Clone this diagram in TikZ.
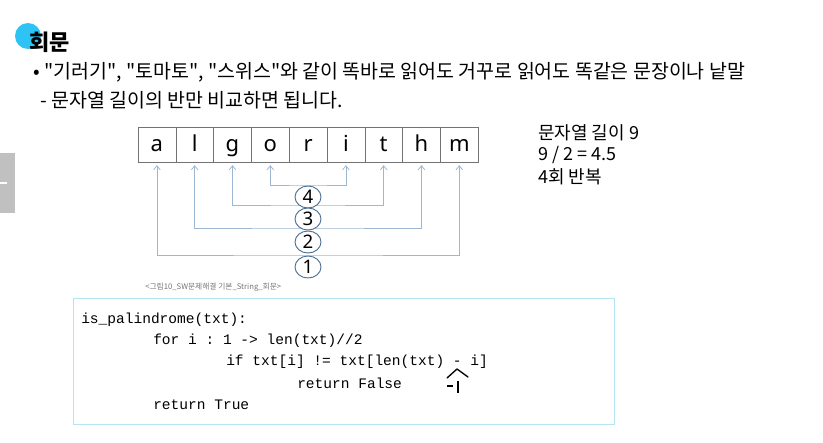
\documentclass[tikz,border=0pt]{standalone}
\usepackage{fontspec}
\setmainfont{Noto Sans CJK KR}
\setmonofont{Liberation Mono}
\newfontfamily\cellfont{Noto Sans}
\usetikzlibrary{shapes.geometric,arrows.meta}
\definecolor{titleblue}{HTML}{2EC3F5}
\definecolor{linkblue}{HTML}{9DB7D2}
\definecolor{ringblue}{HTML}{4F7296}
\definecolor{codeframe}{HTML}{B4E4EF}
\definecolor{tabgray}{HTML}{C0C0C0}
\newcommand{\dq}{\textquotedbl}
\tikzset{
  cell/.style={draw=black!55,minimum width=28.35pt,minimum height=26.25pt,inner sep=0pt,text height=13pt,text depth=2pt,font=\cellfont\fontsize{16.5}{18}\selectfont},
  link/.style={draw=linkblue,line width=0.6pt,{Straight Barb[length=3pt,width=5pt]}-{Straight Barb[length=3pt,width=5pt]}},
  ring/.style={ellipse,draw=ringblue,fill=white,line width=0.7pt,minimum width=19.5pt,minimum height=16.5pt,inner sep=0pt,font=\cellfont\fontsize{14}{15}\selectfont},
  txt/.style={anchor=west,inner sep=0pt},
  codeline/.style={anchor=west,inner sep=0pt,font=\ttfamily\fontsize{10.9}{12}\selectfont}
}
\begin{document}
\begin{tikzpicture}[x=0.75pt,y=-0.75pt]
\useasboundingbox (0,0) rectangle (823,442);
% side tab
\fill[tabgray] (0,153) rectangle (15,213);
\draw[white,line width=1.2pt] (0,183) -- (7,183);
% title
\fill[titleblue] (28,36) circle (13);
\node[txt] (title) at (29,42) {\fontsize{16.5}{18}\selectfont\bfseries 회문};
\node[txt] (line1) at (33,72) {\fontsize{14.6}{16}\selectfont • \dq 기러기\dq, \dq 토마토\dq, \dq 스위스\dq 와 같이 똑바로 읽어도 거꾸로 읽어도 똑같은 문장이나 낱말};
\node[txt] (line2) at (40,100) {\fontsize{14.6}{16}\selectfont - 문자열 길이의 반만 비교하면 됩니다.};
% the word
\foreach \ch [count=\i] in {a,l,g,o,r,i,t,h,m}
  \node[cell] (c\i) at ({138+37.8*(\i-0.5)},144.5) {\ch};
% pairs
\foreach \a/\b/\y in {1/9/255,2/8/228,3/7/205,4/6/185}{
  \coordinate (lv\a) at (308,\y);
  \draw[link] ([yshift=-2.2pt]c\a.south) |- (lv\a) -| ([yshift=-2.2pt]c\b.south);
}
\foreach \n/\y in {4/197,3/219,2/242,1/267}
  \node[ring] (r\n) at (308,\y) {\n};
\node[txt,text=black!55] (caption) at (145,287) {\fontsize{5.8}{6}\selectfont <그림10\_SW문제해결 기본\_String\_회문>};
% note
\node[txt] (note1) at (538,133) {\fontsize{13.5}{15}\selectfont 문자열 길이 9};
\node[txt] (note2) at (538,155) {\fontsize{13.5}{15}\selectfont 9 / 2 = 4.5};
\node[txt] (note3) at (538,177) {\fontsize{13.5}{15}\selectfont 4회 반복};
% code
\draw[codeframe,line width=0.6pt] (73,298) rectangle (614,424);
\node[codeline] (k1) at (81,320) {is\_palindrome(txt):};
\node[codeline] (k2) at (153,341) {for i : 1 -> len(txt)//2};
\node[codeline] (k3) at (226,362) {if txt[i] != txt[len(txt) - i]};
\node[codeline] (k4) at (297,383) {return False};
\node[codeline] (k5) at (153,405) {return True};
% hand marks
\draw[line width=1pt,line cap=round,line join=round] (447,378) -- (457,369) -- (468,377);
\draw[line width=0.9pt] (447,386) -- (453,386);
\draw[line width=0.9pt] (458,381) -- (458,393);
\end{tikzpicture}
\end{document}
